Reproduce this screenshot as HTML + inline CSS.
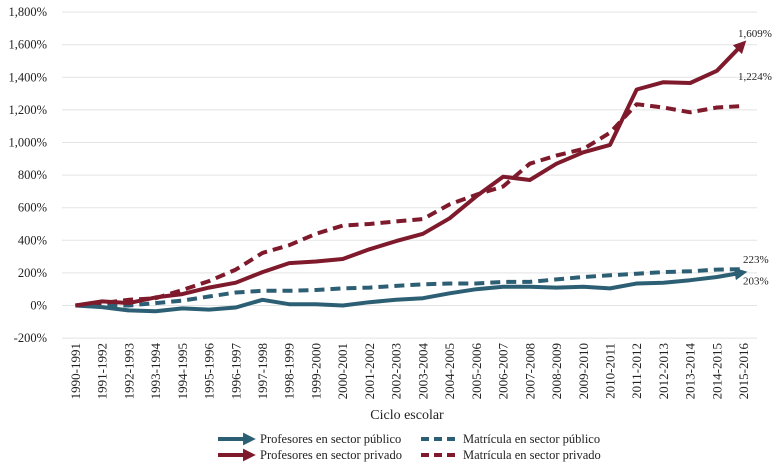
<!DOCTYPE html>
<html><head><meta charset="utf-8"><style>
html,body{margin:0;padding:0;background:#fff;}
svg{display:block;font-family:"Liberation Serif",serif;}
</style></head><body>
<svg id="chart" width="779" height="468" viewBox="0 0 779 468" xmlns="http://www.w3.org/2000/svg">
<defs>
<marker id="arrBlue" viewBox="0 0 10 10" refX="7" refY="5" markerWidth="3.2" markerHeight="3.2" orient="auto"><path d="M0,0 L10,5 L0,10 z" fill="#2d5f74"/></marker>
<marker id="arrRed" viewBox="0 0 10 10" refX="7" refY="5" markerWidth="3.2" markerHeight="3.2" orient="auto"><path d="M0,0 L10,5 L0,10 z" fill="#7e1a2b"/></marker>
</defs>
<g id="grid"></g>
<g id="yticks"></g>
<g id="xticks"></g>
<g id="series"></g>
<text x="407" y="419" font-size="14" text-anchor="middle" fill="#222">Ciclo escolar</text>
<g>
<g>
<line x1="218" y1="439" x2="252" y2="439" stroke="#2d5f74" stroke-width="4" marker-end="url(#arrBlue)"/>
<text x="260" y="443" font-size="12.5" fill="#222">Profesores en sector público</text></g>
<g>
<line x1="218" y1="455" x2="252" y2="455" stroke="#7e1a2b" stroke-width="4" marker-end="url(#arrRed)"/>
<text x="260" y="459" font-size="12.5" fill="#222">Profesores en sector privado</text></g>
<g>
<line x1="421" y1="439" x2="457" y2="439" stroke="#2d5f74" stroke-width="4" stroke-dasharray="8,5"/>
<text x="463" y="443" font-size="12.5" fill="#222">Matrícula en sector público</text></g>
<g>
<line x1="421" y1="455" x2="457" y2="455" stroke="#7e1a2b" stroke-width="4" stroke-dasharray="8,5"/>
<text x="463" y="459" font-size="12.5" fill="#222">Matrícula en sector privado</text></g>
</g>
</svg>
<script>
const categories = ["1990-1991","1991-1992","1992-1993","1993-1994","1994-1995","1995-1996","1996-1997","1997-1998","1998-1999","1999-2000","2000-2001","2001-2002","2002-2003","2003-2004","2004-2005","2005-2006","2006-2007","2007-2008","2008-2009","2009-2010","2010-2011","2011-2012","2012-2013","2013-2014","2014-2015","2015-2016"];
const profPublico = [0,-10,-30,-35,-18,-25,-12,35,8,8,0,20,35,45,75,100,115,115,110,115,105,135,140,155,175,203];
const profPrivado = [0,25,15,50,70,110,140,205,260,270,285,345,395,440,535,670,790,770,870,940,985,1325,1370,1365,1440,1609];
const matPublico = [0,5,0,15,30,55,80,90,90,95,105,110,120,130,135,135,145,145,160,175,185,195,205,210,220,223];
const matPrivado = [0,15,35,45,95,150,220,323,370,440,490,500,516,530,620,680,730,870,920,960,1060,1235,1215,1185,1215,1224];
const yTicks = [-200,0,200,400,600,800,1000,1200,1400,1600,1800];
const yTickLabels = ["-200%","0%","200%","400%","600%","800%","1,000%","1,200%","1,400%","1,600%","1,800%"];
const endLabels = ["203%","1,609%","223%","1,224%"];

const NS="http://www.w3.org/2000/svg";
const L=62,R=757,T=12,B=338;
function yS(v){return 305.5-(v)*(B-T)/2000;}
function xS(i){const bw=(R-L)/categories.length;return L+bw*(i+0.5);}
function mk(tag,attrs,parent){const e=document.createElementNS(NS,tag);for(const k in attrs)e.setAttribute(k,attrs[k]);parent.appendChild(e);return e;}
const grid=document.getElementById('grid'),yt=document.getElementById('yticks'),xt=document.getElementById('xticks'),ser=document.getElementById('series');
yTicks.forEach((v,i)=>{
 const g=mk('line',{x1:L,x2:R,y1:yS(v),y2:yS(v),stroke:'#e3e3e3','stroke-width':1},grid);
 
 
 const t=mk('text',{x:47,y:yS(v)+4,'font-size':12.5,'text-anchor':'end',fill:'#222'},yt);
 t.textContent=yTickLabels[i];
 
 
});
categories.forEach((c,i)=>{
 const t=mk('text',{x:0,y:0,'font-size':13,'text-anchor':'end',fill:'#222',transform:`translate(${xS(i)+4.5},343) rotate(-90)`},xt);
 t.textContent=c;
 
 
});
function line(vals,color,dashed,name,marker){
 const pts=vals.map((v,i)=>xS(i).toFixed(1)+','+yS(v).toFixed(1)).join(' ');
 const a={points:pts,fill:'none',stroke:color,'stroke-width':4,'stroke-linejoin':'round'};
 if(dashed)a['stroke-dasharray']='10,6';
 if(marker)a['marker-end']=marker;
 const p=mk('polyline',a,ser);
 
 
}
line(matPublico,'#2d5f74',true,'line-matricula-publico');
line(matPrivado,'#7e1a2b',true,'line-matricula-privado');
line(profPublico,'#2d5f74',false,'line-profesores-publico','url(#arrBlue)');
line(profPrivado,'#7e1a2b',false,'line-profesores-privado','url(#arrRed)');
const n=categories.length-1;
const lbls=[[profPublico[n],endLabels[0],743,12],[profPrivado[n],endLabels[1],738,-6],[matPublico[n],endLabels[2],743,-6],[matPrivado[n],endLabels[3],738,-26]];
lbls.forEach(d=>{
 const t=mk('text',{x:d[2],y:yS(d[0])+d[3],'font-size':11,fill:'#222'},ser);
 t.textContent=d[1];
 
 
});
</script>
</body></html>
